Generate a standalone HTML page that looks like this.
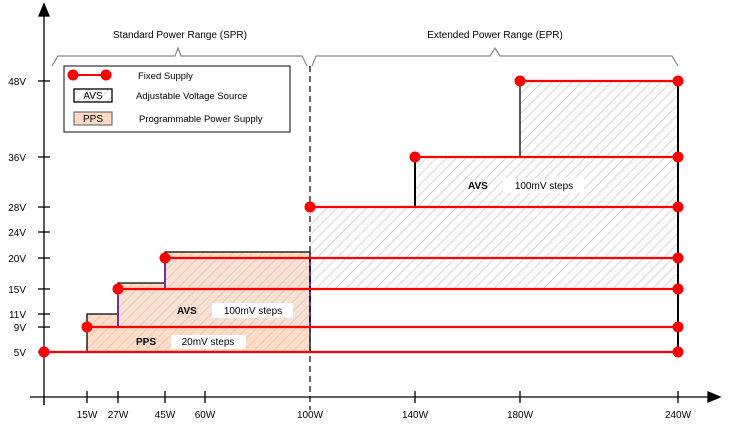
<!DOCTYPE html>
<html><head><style>body{margin:0;background:#fff}svg{display:block;font-family:"Liberation Sans",sans-serif}</style></head><body>
<svg width="744" height="441" viewBox="0 0 744 441">
<defs>
<pattern id="h" width="7" height="7" patternUnits="userSpaceOnUse" patternTransform="rotate(45)"><rect width="7" height="7" fill="#fff"/><line x1="0" y1="0" x2="0" y2="7" stroke="#c8c8c8" stroke-width="1.5"/></pattern>
<pattern id="p" width="7" height="7" patternUnits="userSpaceOnUse" patternTransform="rotate(45)"><rect width="7" height="7" fill="#fbddca"/><line x1="0" y1="0" x2="0" y2="7" stroke="#f0c0a2" stroke-width="1.5"/></pattern>
<pattern id="ph" width="7" height="7" patternUnits="userSpaceOnUse" patternTransform="rotate(45)"><rect width="7" height="7" fill="#f8e0d2"/><line x1="0" y1="0" x2="0" y2="7" stroke="#d6c2b6" stroke-width="1.5"/></pattern>
</defs>
<path d="M310 207H415V157H520V81H678V289H310Z" fill="url(#h)"/>
<path d="M87 352V314H118V283H165V252H310V352Z" fill="url(#p)" stroke="#000" stroke-width="1.3"/>
<path d="M118 327V289H165V258H310V327Z" fill="url(#ph)" stroke="#7030a0" stroke-width="2"/>
<g stroke="#000" stroke-width="2"><line x1="415" y1="157" x2="415" y2="207"/><line x1="520" y1="81" x2="520" y2="157" stroke-width="1.3"/><line x1="678" y1="81" x2="678" y2="352"/></g>
<line x1="310" y1="66" x2="310" y2="410" stroke="#000" stroke-width="1.2" stroke-dasharray="6,4"/>
<g stroke="#000" stroke-width="1.3" fill="none">
<line x1="44" y1="12" x2="44" y2="405"/><line x1="30" y1="397" x2="712" y2="397"/>
<path d="M39 16L44 4L49 16Z" fill="#000"/><path d="M708 392L720 397L708 402Z" fill="#000"/>
<line x1="38" y1="81" x2="50" y2="81"/><line x1="38" y1="157" x2="50" y2="157"/><line x1="38" y1="207" x2="50" y2="207"/><line x1="38" y1="232" x2="50" y2="232"/><line x1="38" y1="258" x2="50" y2="258"/><line x1="38" y1="289" x2="50" y2="289"/><line x1="38" y1="314" x2="50" y2="314"/><line x1="38" y1="327" x2="50" y2="327"/><line x1="38" y1="352" x2="50" y2="352"/>
<line x1="87" y1="391" x2="87" y2="403"/><line x1="118" y1="391" x2="118" y2="403"/><line x1="165" y1="391" x2="165" y2="403"/><line x1="205" y1="391" x2="205" y2="403"/><line x1="415" y1="391" x2="415" y2="403"/><line x1="520" y1="391" x2="520" y2="403"/><line x1="678" y1="391" x2="678" y2="403"/><line x1="44" y1="397" x2="44" y2="405"/>
</g>
<g font-size="10" fill="#000" text-anchor="end"><text x="26" y="85">48V</text><text x="26" y="161">36V</text><text x="26" y="211">28V</text><text x="26" y="236">24V</text><text x="26" y="262">20V</text><text x="26" y="293">15V</text><text x="26" y="318">11V</text><text x="26" y="331">9V</text><text x="26" y="356">5V</text></g>
<g font-size="10" fill="#000" text-anchor="middle"><text x="87" y="418">15W</text><text x="118" y="418">27W</text><text x="165" y="418">45W</text><text x="205" y="418">60W</text><text x="310" y="418">100W</text><text x="415" y="418">140W</text><text x="520" y="418">180W</text><text x="678" y="418">240W</text></g>
<g stroke="#f00" stroke-width="2.2"><line x1="44" y1="352" x2="678" y2="352"/><line x1="87" y1="327" x2="678" y2="327"/><line x1="118" y1="289" x2="678" y2="289"/><line x1="165" y1="258" x2="678" y2="258"/><line x1="310" y1="207" x2="678" y2="207"/><line x1="415" y1="157" x2="678" y2="157"/><line x1="520" y1="81" x2="678" y2="81"/></g>
<g fill="#f00"><circle cx="44" cy="352" r="5.5"/><circle cx="87" cy="327" r="5.5"/><circle cx="118" cy="289" r="5.5"/><circle cx="165" cy="258" r="5.5"/><circle cx="310" cy="207" r="5.5"/><circle cx="415" cy="157" r="5.5"/><circle cx="520" cy="81" r="5.5"/><circle cx="678" cy="81" r="5.5"/><circle cx="678" cy="157" r="5.5"/><circle cx="678" cy="207" r="5.5"/><circle cx="678" cy="258" r="5.5"/><circle cx="678" cy="289" r="5.5"/><circle cx="678" cy="327" r="5.5"/><circle cx="678" cy="352" r="5.5"/></g>
<rect x="171" y="335" width="75" height="14" fill="#fff"/><text x="136" y="345" font-size="10" font-weight="bold">PPS</text><text x="208" y="345" font-size="10" text-anchor="middle">20mV steps</text>
<rect x="212" y="303" width="81" height="15" fill="#fff"/><text x="177" y="314" font-size="10" font-weight="bold">AVS</text><text x="253" y="314" font-size="10" text-anchor="middle">100mV steps</text>
<rect x="503" y="178" width="81" height="15" fill="#fff"/><text x="468" y="189" font-size="10" font-weight="bold">AVS</text><text x="544" y="189" font-size="10" text-anchor="middle">100mV steps</text>
<g stroke="#888" stroke-width="1.2" fill="none"><path d="M52 66L58 56H175L178 48L181 56H302L307 66"/><path d="M312 66L316 56H490L495 48L500 56H672L678 66"/></g>
<text x="180" y="38" font-size="10" text-anchor="middle">Standard Power Range (SPR)</text>
<text x="495" y="38" font-size="10" text-anchor="middle">Extended Power Range (EPR)</text>
<rect x="64" y="66" width="226" height="66" fill="#fff" stroke="#333" stroke-width="1.2"/>
<line x1="73" y1="75" x2="106" y2="75" stroke="#f00" stroke-width="2"/><circle cx="73" cy="75" r="5.5" fill="#f00"/><circle cx="106" cy="75" r="5.5" fill="#f00"/>
<rect x="74" y="89" width="38" height="13" fill="url(#h)" stroke="#000" stroke-width="1.3"/><text x="93" y="99" font-size="10" text-anchor="middle">AVS</text>
<rect x="74" y="112" width="38" height="13" fill="#fbd9c4" stroke="#555"/><text x="93" y="122" font-size="10" text-anchor="middle">PPS</text>
<g font-size="9.5"><text x="138" y="79">Fixed Supply</text><text x="136" y="99">Adjustable Voltage Source</text><text x="139" y="122">Programmable Power Supply</text></g>
</svg>
</body></html>
